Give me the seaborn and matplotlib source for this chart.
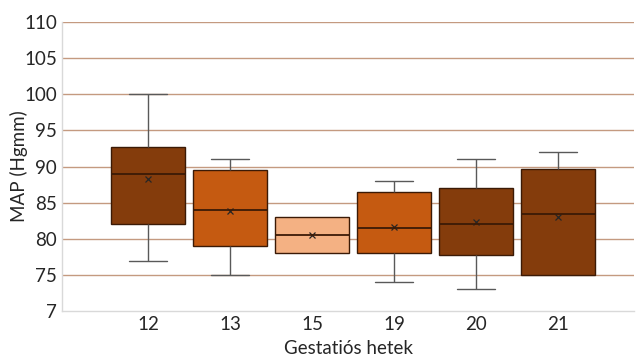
import numpy as np
import pandas as pd
import matplotlib
matplotlib.use("Agg")
import matplotlib.pyplot as plt
import seaborn as sns

# öt-számos összefoglaló hetenként (min, Q1, medián, Q3, max) + átlag
weeks = ["12", "13", "15", "19", "20", "21"]
mins = [77, 75, 78, 74, 73, 75]
q1s = [82, 79, 78, 78, 77.8, 75]
medians = [89, 84, 80.5, 81.5, 82, 83.5]
q3s = [92.7, 89.5, 83, 86.5, 87, 89.7]
maxs = [100, 91, 83, 88, 91, 92]
means = [88.3, 83.8, 80.5, 81.6, 82.3, 83.0]
colors = ["#843C0C", "#C55A11", "#F4B183", "#C55A11", "#843C0C", "#843C0C"]

rows = []
for w, a, b, c, d, e in zip(weeks, mins, q1s, medians, q3s, maxs):
    for v in (a, b, c, d, e):
        rows.append({"het": w, "map": v})
df = pd.DataFrame(rows)
df_mean = pd.DataFrame({"het": weeks, "map": means})

sns.set_style("white")
plt.rcParams["font.family"] = ["Lato", "DejaVu Sans"]

fig, ax = plt.subplots(figsize=(6.36, 3.56), dpi=100)
fig.subplots_adjust(left=0.0975, right=0.997, bottom=0.126, top=0.938)

for y in range(75, 115, 5):
    ax.axhline(y, color="#c49a80", lw=1, zorder=0)

sns.boxplot(data=df, x="het", y="map", hue="het", order=weeks, hue_order=weeks,
            palette=colors, legend=False, width=0.91, whis=np.inf, ax=ax,
            linewidth=1, saturation=1,
            boxprops=dict(edgecolor="#3b1a06"),
            medianprops=dict(color="#3b1a06", lw=1.3),
            whiskerprops=dict(color="#595959"),
            capprops=dict(color="#595959"))

# nulla hosszú bajuszok sapkáit elrejtjük
for line in ax.lines:
    xd, yd = np.asarray(line.get_xdata(), float), np.asarray(line.get_ydata(), float)
    if len(xd) != 2 or yd[0] != yd[1]:
        continue
    i = int(round(xd.mean()))
    if 0 <= i < len(weeks):
        if (yd[0] == mins[i] and mins[i] == q1s[i]) or (yd[0] == maxs[i] and maxs[i] == q3s[i]):
            if abs(xd[1] - xd[0]) < 0.5:
                line.set_visible(False)

sns.pointplot(data=df_mean, x="het", y="map", order=weeks, linestyle="none",
              marker="x", color="#262626", markersize=4.5, markeredgewidth=0.9,
              errorbar=None, ax=ax)

ax.set_xlim(-1.05, 5.93)
ax.set_ylim(70, 110)
ax.set_yticks(range(70, 115, 5))
ax.set_yticklabels(["7"] + [str(v) for v in range(75, 115, 5)])
ax.tick_params(axis="both", labelsize=13.5, length=0, colors="#262626")
ax.set_xlabel("Gestatiós hetek", fontsize=13.5, color="#262626", labelpad=5)
ax.set_ylabel("MAP (Hgmm)", fontsize=13.5, color="#262626")
ax.yaxis.set_label_coords(-0.06, 0.5)
for s in ["top", "right"]:
    ax.spines[s].set_visible(False)
for s in ["left", "bottom"]:
    ax.spines[s].set_color("#d9d9d9")
    ax.spines[s].set_linewidth(1)

fig.savefig("out.png", dpi=100)
